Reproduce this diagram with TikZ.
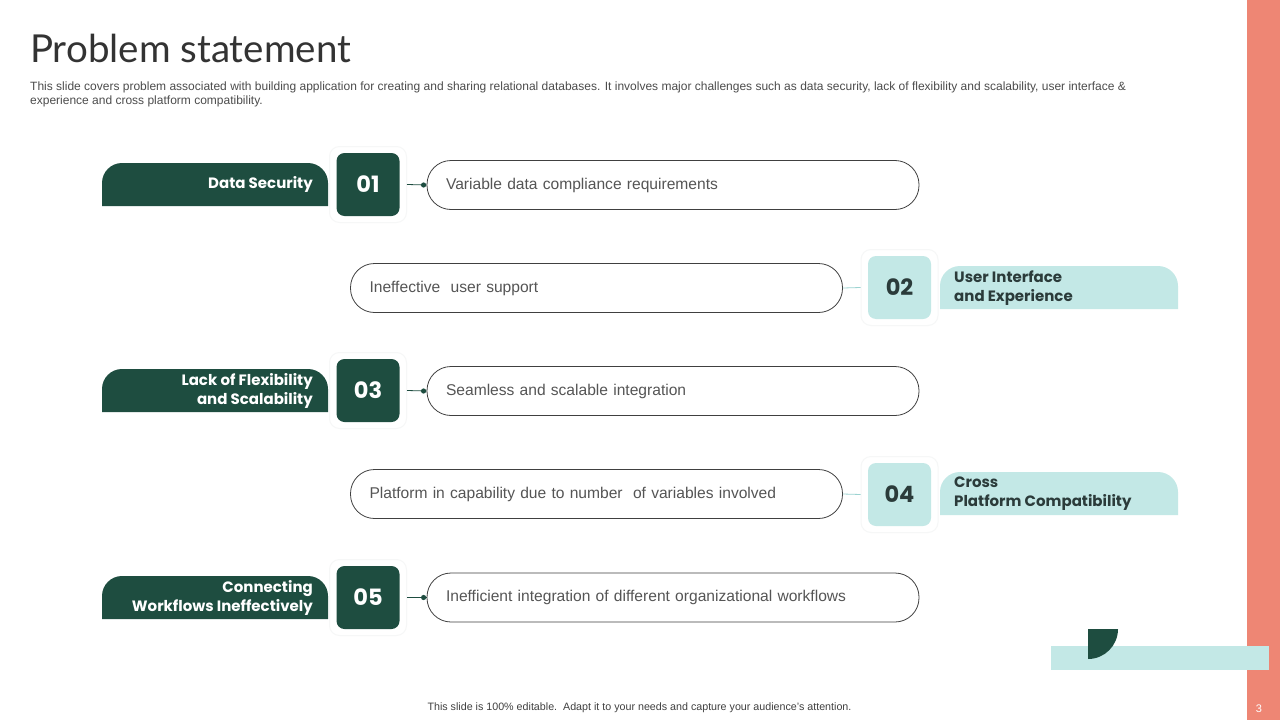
\documentclass[tikz,border=0pt]{standalone}
\usepackage{fontspec}
\setmainfont{Liberation Sans}
\newfontfamily\titlefont{Lato}
\newfontfamily\labfont{Poppins}
\usetikzlibrary{positioning}
\definecolor{dkgreen}{HTML}{1E4D40}
\definecolor{ltteal}{HTML}{C3E8E6}
\definecolor{salmon}{HTML}{EE8674}
\definecolor{txtgray}{HTML}{555555}
\definecolor{numdark}{HTML}{2B3B3A}
\definecolor{halo}{HTML}{F6F7F7}
\tikzset{
  halobox/.style={draw=halo, line width=1pt, fill=white, rounded corners=10pt, minimum width=77pt, minimum height=76pt, inner sep=0pt},
  numdk/.style={fill=dkgreen, text=white, rounded corners=8pt, minimum width=63pt, minimum height=63pt, inner sep=0pt, font=\labfont\bfseries\fontsize{22.5}{22.5}\selectfont},
  numlt/.style={fill=ltteal, text=numdark, rounded corners=8pt, minimum width=63pt, minimum height=63pt, inner sep=0pt, font=\labfont\bfseries\fontsize{22.5}{22.5}\selectfont},
  pill/.style={draw=black!75, line width=0.8pt, fill=white, rounded corners=24pt, minimum width=492pt, minimum height=49pt, text width=454pt, inner xsep=19pt, align=left, text=txtgray, font=\fontsize{15.6}{19}\selectfont},
  labdk/.style={text=white, align=right, font=\labfont\bfseries\fontsize{15}{19}\selectfont, inner sep=0pt},
  lablt/.style={text=numdark, align=left, font=\labfont\bfseries\fontsize{15}{19}\selectfont, inner sep=0pt},
  condk/.style={draw=dkgreen, line width=0.8pt},
  conlt/.style={draw=ltteal!80!teal, line width=0.8pt},
}
\begin{document}
\begin{tikzpicture}[x=1pt,y=-1pt]
\useasboundingbox (0,0) rectangle (1280,720);
\fill[white] (0,0) rectangle (1280,720);
% right bar
\fill[salmon] (1247,0) rectangle (1280,720);
\node[text=white, font=\fontsize{11}{11}\selectfont] (pg) at (1259,709) {3};
% title
\node[anchor=base west, inner sep=0pt, text=black!80, font=\titlefont\fontsize{38.5}{38.5}\selectfont] (title) at (30,62) {Problem statement};
\node[anchor=north west, inner sep=0pt, align=left, text=black!70, font=\fontsize{12}{14}\selectfont] (sub) at (30,82) {This slide covers problem associated with building application for creating and sharing relational databases. It involves major challenges such as data security, lack of flexibility and scalability, user interface \&\\experience and cross platform compatibility.};

% ---------- Row 1 ----------
\fill[dkgreen] (328,206) -- (102,206) [rounded corners=20pt] -- (102,163) -- (328,163) [sharp corners] -- cycle;
\node[labdk, anchor=east] (l1) at (313,184.5) {Data Security};
\node[halobox] (h1) at (368,184.5) {};
\node[numdk] (n1) at (368,184.5) {01};
\node[pill] (p1) at (673,185) {Variable data compliance requirements};
\draw[condk] (h1.east) -- (p1.west);
\fill[dkgreen] ([xshift=-3pt]p1.west) circle (2.6pt);

% ---------- Row 2 ----------
\node[pill] (p2) at (596.5,288) {Ineffective\ \ user support};
\node[halobox] (h2) at (899.5,287.5) {};
\node[numlt] (n2) at (899.5,287.5) {02};
\fill[ltteal] (940,309) -- (1178,309) [rounded corners=20pt] -- (1178,266) -- (940,266) [sharp corners] -- cycle;
\node[lablt, anchor=west] (l2) at (954,288) {User Interface\\and Experience};
\draw[conlt] (p2.east) -- (h2.west);

% ---------- Row 3 ----------
\fill[dkgreen] (328,412) -- (102,412) [rounded corners=20pt] -- (102,369) -- (328,369) [sharp corners] -- cycle;
\node[labdk, anchor=east] (l3) at (313,390.5) {Lack of Flexibility\\and Scalability};
\node[halobox] (h3) at (368,390.5) {};
\node[numdk] (n3) at (368,390.5) {03};
\node[pill] (p3) at (673,391) {Seamless and scalable integration};
\draw[condk] (h3.east) -- (p3.west);
\fill[dkgreen] ([xshift=-3pt]p3.west) circle (2.6pt);

% ---------- Row 4 ----------
\node[pill] (p4) at (596.5,494) {Platform in capability due to number\ \ of variables involved};
\node[halobox] (h4) at (899.5,494.5) {};
\node[numlt] (n4) at (899.5,494.5) {04};
\fill[ltteal] (940,515) -- (1178,515) [rounded corners=20pt] -- (1178,472) -- (940,472) [sharp corners] -- cycle;
\node[lablt, anchor=west] (l4) at (954,494) {Cross\\Platform Compatibility};
\draw[conlt] (p4.east) -- (h4.west);

% ---------- Row 5 ----------
\fill[dkgreen] (328,619) -- (102,619) [rounded corners=20pt] -- (102,576) -- (328,576) [sharp corners] -- cycle;
\node[labdk, anchor=east] (l5) at (313,597.5) {Connecting\\Workflows Ineffectively};
\node[halobox] (h5) at (368,597.5) {};
\node[numdk] (n5) at (368,597.5) {05};
\node[pill] (p5) at (673,597.5) {Inefficient integration of different organizational workflows};
\draw[condk] (h5.east) -- (p5.west);
\fill[dkgreen] ([xshift=-3pt]p5.west) circle (2.6pt);

% bottom decoration
\fill[ltteal] (1051,646) rectangle (1269,670);
\fill[dkgreen] (1088,629) -- (1118,629) arc[start angle=0, end angle=-90, radius=30pt] -- cycle;

% footer
\node[text=black!75, font=\fontsize{10.7}{12}\selectfont] (foot) at (639.5,708) {This slide is 100\% editable.\ \ Adapt it to your needs and capture your audience's attention.};
\end{tikzpicture}
\end{document}
